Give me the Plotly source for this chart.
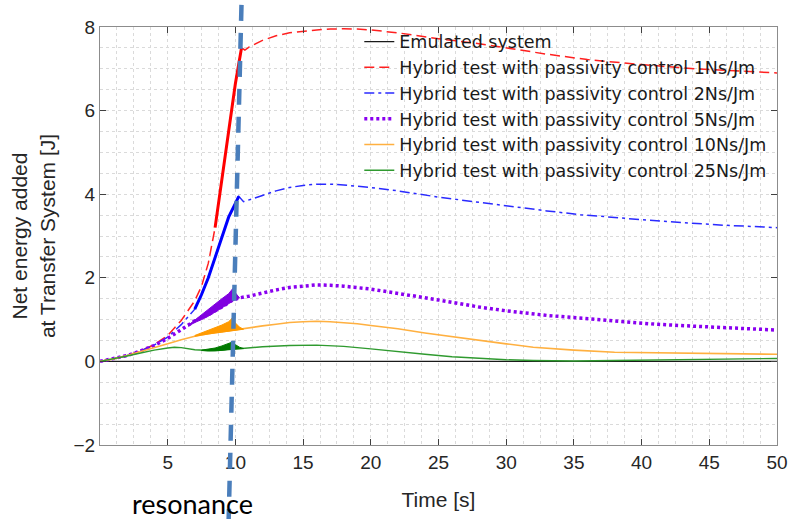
import plotly.graph_objects as go

# ---------------- data ----------------
t_emul = [0, 50]
e_emul = [0, 0]

t_1 = [0, 1, 2, 3, 4, 5, 6, 7, 7.5, 8, 8.5, 9, 9.5, 10, 10.3, 10.45, 10.7, 11, 12, 13, 14, 15, 16, 17,
       18, 19, 20, 22, 25, 28, 30, 33, 36, 40, 44, 47, 50]
e_1 = [0, 0.06, 0.14, 0.25, 0.4, 0.62, 0.98, 1.45, 1.8, 2.35, 3.2, 4.3, 5.5, 6.65, 7.2, 7.5, 7.45, 7.52,
       7.68, 7.79, 7.86, 7.9, 7.93, 7.95, 7.96, 7.95, 7.93, 7.86, 7.72, 7.6, 7.5, 7.35, 7.22, 7.1, 7.0,
       6.95, 6.9]

t_2 = [0, 1, 2, 3, 4, 5, 6, 7, 7.5, 8, 8.5, 9, 9.5, 10, 10.25, 10.6, 11, 12, 13, 14, 15, 16, 17, 18,
       20, 22, 25, 28, 30, 33, 35.5, 38, 40, 43, 46, 50]
e_2 = [0, 0.06, 0.14, 0.25, 0.39, 0.58, 0.88, 1.25, 1.6, 2.0, 2.5, 3.0, 3.45, 3.78, 3.95, 3.82, 3.86,
       3.97, 4.08, 4.16, 4.21, 4.24, 4.24, 4.22, 4.16, 4.08, 3.93, 3.8, 3.72, 3.6, 3.51, 3.44, 3.39,
       3.32, 3.26, 3.2]

t_5 = [0, 1, 2, 3, 4, 5, 6, 7, 8, 9, 9.7, 10.3, 11, 12, 13, 14, 15, 16, 17, 18, 20, 22, 25, 28, 30,
       33, 35.5, 38, 41, 44, 47, 50]
e_5 = [0, 0.06, 0.14, 0.25, 0.38, 0.55, 0.75, 0.97, 1.12, 1.3, 1.45, 1.52, 1.56, 1.64, 1.71, 1.77,
       1.81, 1.83, 1.82, 1.8, 1.73, 1.63, 1.47, 1.3, 1.21, 1.1, 1.03, 0.96, 0.89, 0.84, 0.79, 0.75]

t_10 = [0, 1, 2, 3, 4, 5, 6, 7, 8, 9, 9.7, 10.5, 11, 12, 13, 14, 15, 16, 17, 18, 19, 20, 21, 22, 24,
        26, 28, 30, 32, 35, 38, 42, 46, 50]
e_10 = [0, 0.06, 0.14, 0.23, 0.32, 0.42, 0.52, 0.6, 0.66, 0.71, 0.74, 0.77, 0.8, 0.85, 0.89, 0.93,
        0.95, 0.96, 0.95, 0.93, 0.9, 0.86, 0.82, 0.78, 0.68, 0.59, 0.5, 0.42, 0.34, 0.27, 0.22, 0.2,
        0.18, 0.17]

t_25 = [0, 1, 2, 3, 4, 5, 5.5, 6, 7, 8, 9, 9.7, 10.5, 12, 14, 16, 18, 20, 22, 24, 26, 28, 30, 32, 35,
        38, 42, 46, 50]
e_25 = [0, 0.06, 0.13, 0.2, 0.27, 0.32, 0.34, 0.33, 0.28, 0.26, 0.27, 0.3, 0.31, 0.35, 0.38, 0.39,
        0.36, 0.3, 0.23, 0.17, 0.11, 0.07, 0.04, 0.02, 0.01, 0.02, 0.04, 0.06, 0.07]

# oscillation envelopes around the resonance
band_t_5 = [6.5, 7, 7.5, 8, 8.5, 9, 9.5, 9.8, 10.0, 10.3]
band_hi_5 = [0.86, 0.99, 1.12, 1.26, 1.38, 1.5, 1.62, 1.74, 1.64, 1.52]
band_lo_5 = [0.84, 0.93, 1.0, 1.08, 1.17, 1.27, 1.37, 1.44, 1.48, 1.52]

band_t_10 = [7, 7.5, 8, 8.5, 9, 9.5, 9.75, 10, 10.3, 10.6]
band_hi_10 = [0.62, 0.68, 0.74, 0.8, 0.87, 0.95, 1.03, 0.92, 0.82, 0.77]
band_lo_10 = [0.6, 0.63, 0.66, 0.68, 0.7, 0.72, 0.73, 0.74, 0.76, 0.77]

band_t_25 = [7.5, 8, 8.5, 9, 9.5, 9.75, 10, 10.3, 10.6]
band_hi_25 = [0.27, 0.29, 0.32, 0.37, 0.42, 0.46, 0.4, 0.34, 0.31]
band_lo_25 = [0.26, 0.25, 0.25, 0.26, 0.27, 0.28, 0.29, 0.3, 0.31]

solid_range_1 = (8.5, 10.45)
solid_range_2 = (7.0, 10.25)

resonance_t_top = 10.45
resonance_t_bottom = 9.5

labels = ["Emulated system",
          "Hybrid test with passivity control 1Ns/Jm",
          "Hybrid test with passivity control 2Ns/Jm",
          "Hybrid test with passivity control 5Ns/Jm",
          "Hybrid test with passivity control 10Ns/Jm",
          "Hybrid test with passivity control 25Ns/Jm"]

x_ticks = [5, 10, 15, 20, 25, 30, 35, 40, 45, 50]
y_ticks = [-2, 0, 2, 4, 6, 8]

# ---------------- figure ----------------
fig = go.Figure()

def sub(t, e, lo, hi):
    xs, ys = [], []
    for a, b in zip(t, e):
        if lo <= a <= hi:
            xs.append(a)
            ys.append(b)
    return xs, ys

def band(t, hi, lo, color):
    fig.add_trace(go.Scatter(x=t + t[::-1], y=hi + lo[::-1], fill="toself", fillcolor=color,
                             mode="lines", line=dict(color=color, width=1),
                             showlegend=False, hoverinfo="skip"))

RED = "#ff2020"
BLUE = "#2a2aff"
PURPLE = "#8a00f0"
ORANGE = "#ffb040"
GREEN = "#2f9a2f"

fig.add_trace(go.Scatter(x=t_emul, y=e_emul, mode="lines", name=labels[0],
                         line=dict(color="#1a1a1a", width=1.2)))
fig.add_trace(go.Scatter(x=t_1, y=e_1, mode="lines", name=labels[1],
                         line=dict(color=RED, width=1.5, dash="10px,5px")))
fig.add_trace(go.Scatter(x=t_2, y=e_2, mode="lines", name=labels[2],
                         line=dict(color=BLUE, width=1.5, dash="10px,4px,3px,4px")))
fig.add_trace(go.Scatter(x=t_5, y=e_5, mode="lines", name=labels[3],
                         line=dict(color=PURPLE, width=3.5, dash="3px,3px")))
fig.add_trace(go.Scatter(x=t_10, y=e_10, mode="lines", name=labels[4],
                         line=dict(color=ORANGE, width=1.6)))
fig.add_trace(go.Scatter(x=t_25, y=e_25, mode="lines", name=labels[5],
                         line=dict(color=GREEN, width=1.4)))

xs, ys = sub(t_1, e_1, *solid_range_1)
fig.add_trace(go.Scatter(x=xs, y=ys, mode="lines", line=dict(color="#ff0000", width=3),
                         showlegend=False, hoverinfo="skip"))
xs, ys = sub(t_2, e_2, *solid_range_2)
fig.add_trace(go.Scatter(x=xs, y=ys, mode="lines", line=dict(color="#0000ff", width=3),
                         showlegend=False, hoverinfo="skip"))
band(band_t_5, band_hi_5, band_lo_5, "#8000e0")
band(band_t_10, band_hi_10, band_lo_10, "#ff9a00")
band(band_t_25, band_hi_25, band_lo_25, "#007a00")

# resonance marker
fig.add_shape(type="line", xref="x", yref="paper",
              x0=resonance_t_top, y0=1.053, x1=resonance_t_bottom, y1=-0.18,
              line=dict(color="#4a7ebb", width=4.5, dash="16px,12px"), layer="above")
fig.add_annotation(text="resonance", xref="paper", yref="paper", x=0.136, y=-0.139,
                   showarrow=False, font=dict(family="Lato", size=27, color="#000000"),
                   xanchor="center", yanchor="middle")

axis_common = dict(
    showline=True, linecolor="#8c8c8c", linewidth=1, mirror="ticks",
    ticks="inside", ticklen=6, tickcolor="#404040",
    showgrid=True, gridcolor="#dadada", griddash="dot", gridwidth=1,
    zeroline=False, automargin=False,
    tickfont=dict(family="Liberation Sans", size=19, color="#262626"),
)

fig.update_xaxes(range=[0, 50], tickvals=x_ticks,
                 title=dict(text="Time [s]", font=dict(family="Liberation Sans", size=21, color="#262626"),
                            standoff=20),
                 minor=dict(dtick=1.25, showgrid=True, gridcolor="#dadada", griddash="dot"),
                 **axis_common)
fig.update_yaxes(range=[-2, 8], tickvals=y_ticks,
                 title=dict(text="Net energy added<br>at Transfer System [J]",
                            font=dict(family="Liberation Sans", size=21, color="#262626"), standoff=12),
                 minor=dict(dtick=0.5, showgrid=True, gridcolor="#dadada", griddash="dot"),
                 **axis_common)

fig.update_layout(
    width=790, height=519,
    margin=dict(l=100, r=13, t=27, b=74),
    paper_bgcolor="white", plot_bgcolor="white",
    showlegend=True,
    legend=dict(x=0.383, y=1.008, xanchor="left", yanchor="top", bgcolor="rgba(0,0,0,0)",
                font=dict(family="DejaVu Sans", size=17.5, color="#1a1a1a"),
                tracegroupgap=0, itemwidth=30),
)

fig.write_html("out.html")
